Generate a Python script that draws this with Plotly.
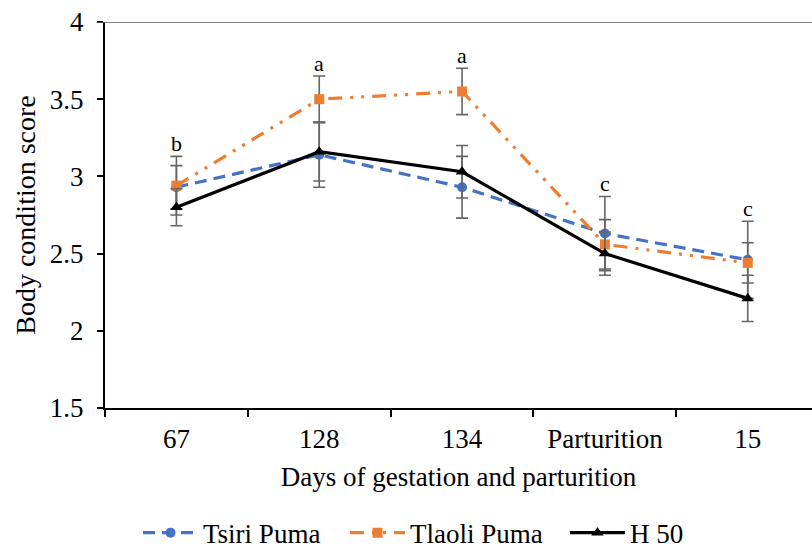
import plotly.graph_objects as go

# Sampling points and mean body condition scores
categories = ["67", "128", "134", "Parturition", "15"]
tsiri = [2.93, 3.14, 2.93, 2.63, 2.46]
tsiri_err = [0.14, 0.21, 0.20, 0.24, 0.25]
tlaoli = [2.94, 3.50, 3.55, 2.56, 2.44]
tlaoli_err = [0.19, 0.15, 0.15, 0.16, 0.13]
h50 = [2.80, 3.16, 3.03, 2.50, 2.21]
h50_err = [0.12, 0.19, 0.17, 0.14, 0.15]
letters = ["b", "a", "a", "c", "c"]

FONT = "Liberation Serif, Times New Roman, serif"
ERR_COLOR = "#666666"
FS = 27


def err(vals):
    return dict(type="data", array=vals, visible=True, color=ERR_COLOR,
                thickness=1.6, width=6)


fig = go.Figure()
fig.add_trace(go.Scatter(
    x=categories, y=tsiri, name="Tsiri Puma", mode="lines+markers",
    line=dict(color="#4472C4", width=3.2, dash="12px,7px"),
    marker=dict(symbol="circle", size=10, color="#4472C4"),
    error_y=err(tsiri_err), legend="legend"))
fig.add_trace(go.Scatter(
    x=categories, y=tlaoli, name="Tlaoli Puma", mode="lines+markers",
    line=dict(color="#ED7D31", width=3.2, dash="14px,8px,3px,8px,3px,8px"),
    marker=dict(symbol="square", size=10, color="#ED7D31"),
    error_y=err(tlaoli_err), legend="legend2"))
fig.add_trace(go.Scatter(
    x=categories, y=h50, name="H 50", mode="lines+markers",
    line=dict(color="#000000", width=3.2),
    marker=dict(symbol="triangle-up", size=11, color="#000000"),
    error_y=err(h50_err), legend="legend3"))

# Significance letters above the tallest error bar at each point
for i in range(len(categories)):
    top = max(tsiri[i] + tsiri_err[i], tlaoli[i] + tlaoli_err[i], h50[i] + h50_err[i])
    fig.add_annotation(x=i, y=top, text=letters[i], showarrow=False,
                       yanchor="bottom", yshift=-2,
                       font=dict(family=FONT, size=22, color="#000000"))

# Top reference line at 4
fig.add_shape(type="line", xref="paper", yref="y", x0=-0.012, x1=1, y0=4, y1=4,
              line=dict(color="#595959", width=1.5))


def leg(xpx):
    return dict(orientation="h", xref="container", yref="container",
                x=xpx / 812, xanchor="left", y=0.029, yanchor="middle",
                itemwidth=55, font=dict(family=FONT, size=FS),
                bgcolor="rgba(0,0,0,0)")


fig.update_layout(
    width=812, height=549,
    margin=dict(l=105, r=0, t=22, b=141),
    paper_bgcolor="white", plot_bgcolor="white",
    font=dict(family=FONT, size=FS, color="#000000"),
    showlegend=True,
    legend=leg(138), legend2=leg(345), legend3=leg(565),
    xaxis=dict(
        type="category", range=[-0.5, 4.45],
        showline=True, linecolor="#000000", linewidth=2,
        ticks="outside", tickson="boundaries", ticklen=7, tickwidth=1.5,
        tickcolor="#000000", showgrid=False, zeroline=False,
        tickfont=dict(family=FONT, size=FS), ticklabelstandoff=6,
        title=dict(text="Days of gestation and parturition",
                   font=dict(family=FONT, size=FS), standoff=14),
    ),
    yaxis=dict(
        range=[1.5, 4], tickvals=[1.5, 2, 2.5, 3, 3.5, 4],
        ticktext=["1.5", "2", "2.5", "3", "3.5", "4"],
        showline=True, linecolor="#000000", linewidth=2,
        ticks="outside", ticklen=6, tickwidth=1.5, tickcolor="#000000",
        showgrid=False, zeroline=False,
        tickfont=dict(family=FONT, size=FS), ticklabelstandoff=8,
        title=dict(text="Body condition score", font=dict(family=FONT, size=28),
                   standoff=6),
    ),
)

fig.write_html("out.html")
